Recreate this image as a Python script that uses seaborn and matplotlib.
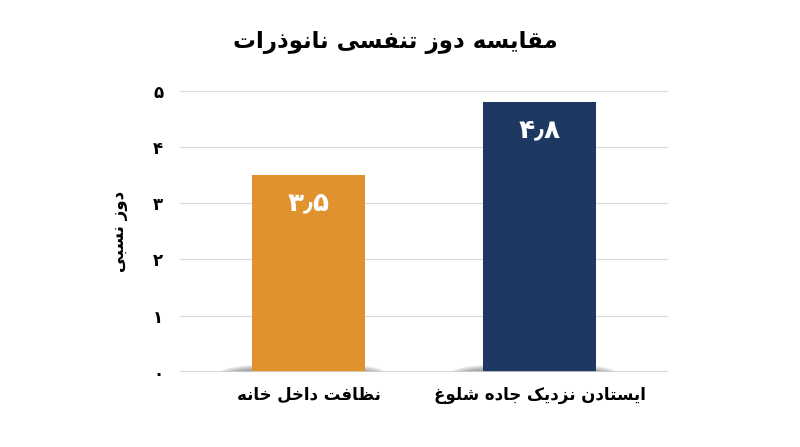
import matplotlib
matplotlib.use("Agg")
import matplotlib.pyplot as plt
from matplotlib.patches import Ellipse
import seaborn as sns

categories = ["نظافت داخل خانه", "ایستادن نزدیک جاده شلوغ"]
values = [3.5, 4.8]
colors = ["#DF922E", "#1E3961"]
title = "مقایسه دوز تنفسی نانوذرات"
ylabel = "دوز نسبی"
yticks = [0, 1, 2, 3, 4, 5]

# matplotlib has no arabic shaping, so pick presentation forms by hand
FORMS = {
    "ا": ("\uFE8D", "\uFE8E", None, None),
    "ب": ("\uFE8F", "\uFE90", "\uFE91", "\uFE92"),
    "ت": ("\uFE95", "\uFE96", "\uFE97", "\uFE98"),
    "ج": ("\uFE9D", "\uFE9E", "\uFE9F", "\uFEA0"),
    "خ": ("\uFEA5", "\uFEA6", "\uFEA7", "\uFEA8"),
    "د": ("\uFEA9", "\uFEAA", None, None),
    "ذ": ("\uFEAB", "\uFEAC", None, None),
    "ر": ("\uFEAD", "\uFEAE", None, None),
    "ز": ("\uFEAF", "\uFEB0", None, None),
    "س": ("\uFEB1", "\uFEB2", "\uFEB3", "\uFEB4"),
    "ش": ("\uFEB5", "\uFEB6", "\uFEB7", "\uFEB8"),
    "ظ": ("\uFEC5", "\uFEC6", "\uFEC7", "\uFEC8"),
    "غ": ("\uFECD", "\uFECE", "\uFECF", "\uFED0"),
    "ف": ("\uFED1", "\uFED2", "\uFED3", "\uFED4"),
    "ق": ("\uFED5", "\uFED6", "\uFED7", "\uFED8"),
    "ل": ("\uFEDD", "\uFEDE", "\uFEDF", "\uFEE0"),
    "م": ("\uFEE1", "\uFEE2", "\uFEE3", "\uFEE4"),
    "ن": ("\uFEE5", "\uFEE6", "\uFEE7", "\uFEE8"),
    "ه": ("\uFEE9", "\uFEEA", "\uFEEB", "\uFEEC"),
    "و": ("\uFEED", "\uFEEE", None, None),
    "ی": ("\uFBFC", "\uFBFD", "\uFBFE", "\uFBFF"),
    "ک": ("\uFB8E", "\uFB8F", "\uFB90", "\uFB91"),
}


def fa(text):
    out = []
    for i, ch in enumerate(text):
        if ch not in FORMS:
            out.append(ch)
            continue
        prev = text[i - 1] if i > 0 else ""
        nxt = text[i + 1] if i + 1 < len(text) else ""
        iso, fin, ini, med = FORMS[ch]
        jp = prev in FORMS and FORMS[prev][2] is not None
        jn = ini is not None and nxt in FORMS
        if jp and jn:
            out.append(med)
        elif jp:
            out.append(fin)
        elif jn:
            out.append(ini)
        else:
            out.append(iso)
    return "".join(reversed(out))


def fa_num(v):
    s = ("%g" % v).replace(".", "\u066B")
    return s.translate(str.maketrans("0123456789", "۰۱۲۳۴۵۶۷۸۹"))


sns.set_theme(style="white")
plt.rcParams["font.family"] = ["DejaVu Sans"]
plt.rcParams["text.color"] = "black"
plt.rcParams["axes.labelcolor"] = "black"
plt.rcParams["xtick.color"] = "black"
plt.rcParams["ytick.color"] = "black"

fig = plt.figure(figsize=(8, 4.47), dpi=100)
ax = fig.add_axes([0.225, 0.168, 0.61, 0.629])

labels = [fa(c) for c in categories]
sns.barplot(x=labels, y=values, hue=labels, palette=colors, width=0.49,
            legend=False, ax=ax, zorder=3, saturation=1, linewidth=0)

# soft shadow at the foot of each bar
for p in ax.patches[:len(values)]:
    cx = p.get_x() + p.get_width() * 0.45
    for k in range(7):
        ax.add_patch(Ellipse((cx, 0), p.get_width() * (1.45 - k * 0.05), 0.32 - k * 0.035,
                             color="#444444", alpha=0.09, lw=0, zorder=2))

for cont in ax.containers:
    ax.bar_label(cont, labels=[fa_num(v) for v in cont.datavalues], padding=-30,
                 color="white", fontsize=19, fontweight="bold")

ax.set_xlim(-0.556, 1.556)
ax.set_ylim(0, 5)
ax.set_yticks(yticks)
ax.set_yticklabels([fa_num(t) for t in yticks], fontsize=12, fontweight="bold")
ax.tick_params(axis="both", length=0)
ax.tick_params(axis="y", pad=12)
ax.tick_params(axis="x", pad=10)
for t in ax.get_xticklabels():
    t.set_fontsize(12)
    t.set_fontweight("bold")
ax.yaxis.grid(True, color="#dcdcdc", lw=0.9, zorder=0)
ax.axhline(0, color="#cfcfcf", lw=1.2, zorder=4)
for s in ax.spines.values():
    s.set_visible(False)

ax.set_xlabel("")
ax.set_ylabel(fa(ylabel), fontsize=12, fontweight="bold", labelpad=18)

fig.text(0.494, 0.906, fa(title), ha="center", va="center", fontsize=16.5,
         fontweight="bold")

fig.savefig("out.png", dpi=100, facecolor="white")
